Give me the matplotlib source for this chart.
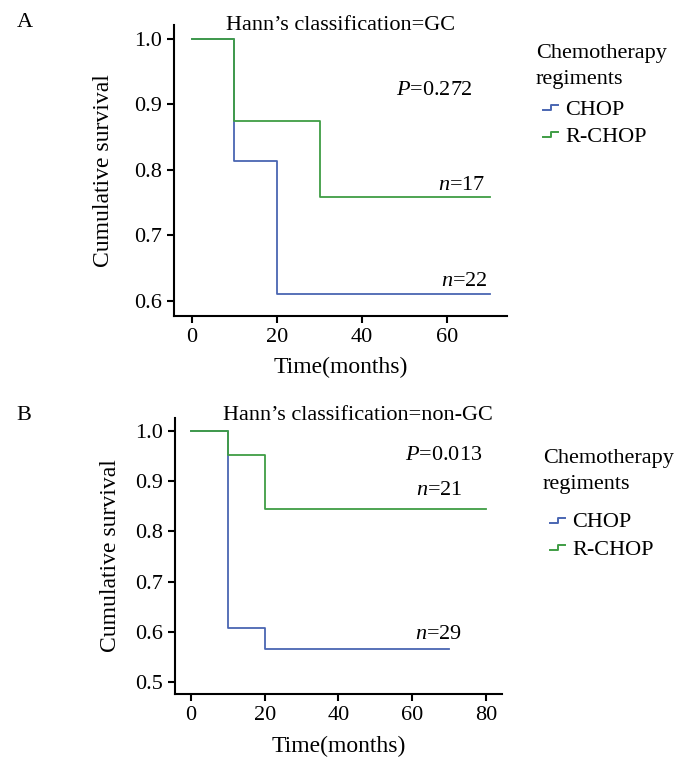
import numpy as np
import matplotlib
matplotlib.use("Agg")
import matplotlib.pyplot as plt
from matplotlib.lines import Line2D
from matplotlib.legend_handler import HandlerBase

plt.rcParams['font.family'] = ['Liberation Serif', 'DejaVu Serif']
plt.rcParams['mathtext.fontset'] = 'custom'
plt.rcParams['mathtext.it'] = 'Liberation Serif:italic'
plt.rcParams['mathtext.rm'] = 'Liberation Serif'

# Kaplan-Meier step data (time, survival)
a_time_chop = [0, 10, 20, 70]
a_surv_chop = [1.0, 0.814, 0.61, 0.61]
a_time_rchop = [0, 10, 30, 70]
a_surv_rchop = [1.0, 0.875, 0.758, 0.758]

b_time_chop = [0, 10, 20, 70]
b_surv_chop = [1.0, 0.608, 0.566, 0.566]
b_time_rchop = [0, 10, 20, 80]
b_surv_rchop = [1.0, 0.952, 0.844, 0.844]

groups = ['CHOP', 'R-CHOP']
blue = '#4a66b2'
green = '#3f9d44'
fs = 16


class StepHandler(HandlerBase):
    # small step glyph like the SPSS legend
    def create_artists(self, legend, orig_handle, xdescent, ydescent,
                       width, height, fontsize, trans):
        x0 = width * 0.3
        x1 = width * 0.63
        x2 = width * 0.92
        yl = height * 0.3
        yh = height * 0.62
        ln = Line2D([x0, x1, x1, x2], [yl, yl, yh, yh],
                    color=orig_handle.get_color(), lw=1.4, transform=trans)
        return [ln]


def style_ax(ax, ypad, xpad):
    for s in ['top', 'right']:
        ax.spines[s].set_visible(False)
    for s in ['left', 'bottom']:
        ax.spines[s].set_linewidth(1.5)
    ax.tick_params(direction='out', length=5, width=1.5, labelsize=fs)
    ax.set_ylabel('Cumulative survival', fontsize=fs + 1, labelpad=ypad)
    ax.set_xlabel('Time(months)', fontsize=fs + 1, labelpad=xpad)


def add_legend(handles, x, y, sep):
    leg = fig.legend(handles, groups, title='Chemotherapy\nregiments',
                     loc='upper left', bbox_to_anchor=(x, y),
                     frameon=False, fontsize=fs, title_fontsize=fs,
                     handler_map={Line2D: StepHandler()}, handlelength=1.1,
                     handletextpad=0.2, labelspacing=0.3, borderaxespad=0,
                     borderpad=0)
    leg.get_title().set_linespacing(1.45)
    leg._legend_box.align = 'left'
    leg._legend_box.sep = sep
    return leg


fig = plt.figure(figsize=(7, 7.63), dpi=100)

# panel A
axA = fig.add_axes([0.2486, 0.5858, 0.4757, 0.3814])
hA1, = axA.step(a_time_chop, a_surv_chop, where='post', color=blue, lw=1.3)
hA2, = axA.step(a_time_rchop, a_surv_rchop, where='post', color=green, lw=1.3)
axA.set_xlim(-4.2, 74)
axA.set_ylim(0.577, 1.021)
axA.set_xticks([0, 20, 40, 60])
axA.set_yticks([0.6, 0.7, 0.8, 0.9, 1.0])
axA.set_yticklabels(['0.6', '0.7', '0.8', '0.9', '1.0'])
style_ax(axA, 15, 7)
axA.text(0.5, 1.0, "Hann\u2019s classification=GC", transform=axA.transAxes,
         ha='center', va='center', fontsize=fs)
axA.text(0.898, 0.775, '$P$=0.272', transform=axA.transAxes,
         ha='right', va='center', fontsize=fs)
axA.text(69, 0.776, '$n$=17', ha='right', va='center', fontsize=fs)
axA.text(69.5, 0.629, '$n$=22', ha='right', va='center', fontsize=fs)
fig.text(0.024, 0.971, 'A', fontsize=fs, va='center')
add_legend([hA1, hA2], 0.7657, 0.942, 7.5)

# panel B
axB = fig.add_axes([0.25, 0.0904, 0.4671, 0.3618])
hB1, = axB.step(b_time_chop, b_surv_chop, where='post', color=blue, lw=1.3)
hB2, = axB.step(b_time_rchop, b_surv_rchop, where='post', color=green, lw=1.3)
axB.set_xlim(-4.3, 84.3)
axB.set_ylim(0.476, 1.026)
axB.set_xticks([0, 20, 40, 60, 80])
axB.set_yticks([0.5, 0.6, 0.7, 0.8, 0.9, 1.0])
axB.set_yticklabels(['0.5', '0.6', '0.7', '0.8', '0.9', '1.0'])
style_ax(axB, 10, 8)
axB.text(0.56, 1.01, "Hann\u2019s classification=non-GC", transform=axB.transAxes,
         ha='center', va='center', fontsize=fs)
axB.text(0.94, 0.864, '$P$=0.013', transform=axB.transAxes,
         ha='right', va='center', fontsize=fs)
axB.text(73.5, 0.882, '$n$=21', ha='right', va='center', fontsize=fs)
axB.text(73.5, 0.594, '$n$=29', ha='right', va='center', fontsize=fs)
fig.text(0.023, 0.456, 'B', fontsize=fs, va='center')
add_legend([hB1, hB2], 0.7757, 0.411, 13)

fig.savefig('out.png', dpi=100)
